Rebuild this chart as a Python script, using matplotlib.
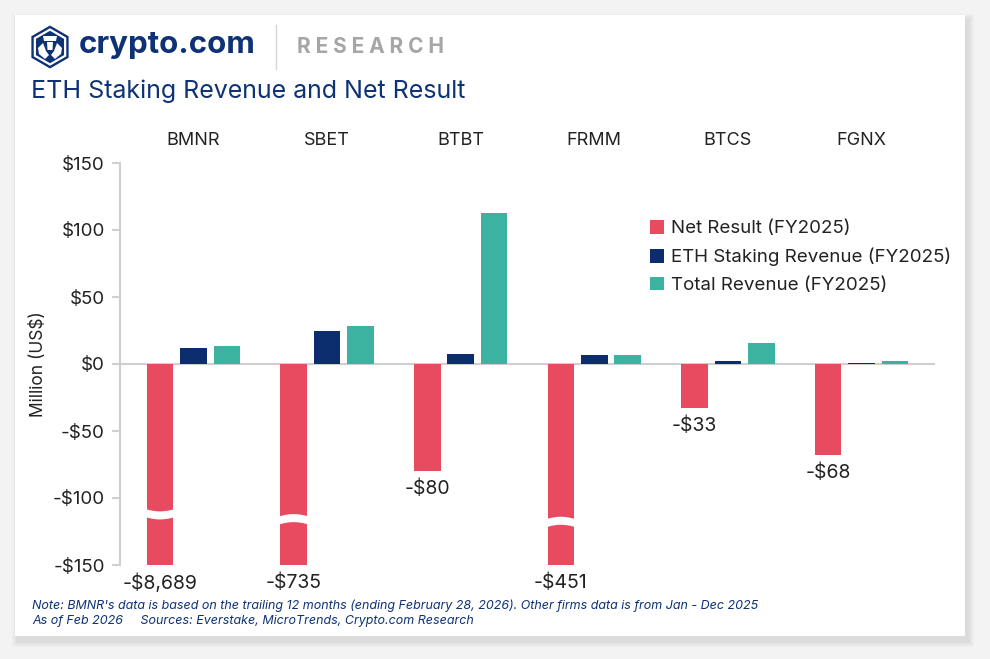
import numpy as np
import matplotlib.pyplot as plt
from matplotlib.patches import FancyBboxPatch, Polygon

plt.rcParams['font.family'] = ['Inter', 'DejaVu Sans']

# data (million US$)
firms = ['BMNR', 'SBET', 'BTBT', 'FRMM', 'BTCS', 'FGNX']
net_result = [-8689, -735, -80, -451, -33, -68]
eth_staking = [12, 25, 7.5, 6.5, 2, 1]
total_revenue = [13.5, 28, 113, 6.5, 16, 2]
net_labels = ['-$8,689', '-$735', '-$80', '-$451', '-$33', '-$68']
yticks = [150, 100, 50, 0, -50, -100, -150]
ytick_labels = ['$150', '$100', '$50', '$0', '-$50', '-$100', '-$150']
series_names = ['Net Result (FY2025)', 'ETH Staking Revenue (FY2025)', 'Total Revenue (FY2025)']

RED = '#E84A5F'
NAVY = '#0B2D6E'
TEAL = '#3BB3A0'
TITLE = '#0E3275'

W, H = 990, 659
fig = plt.figure(figsize=(W / 100, H / 100), dpi=100)
fig.patch.set_facecolor('#f3f3f3')

# overlay in pixel coordinates for the card and header
bg = fig.add_axes([0, 0, 1, 1])
bg.set_xlim(0, W)
bg.set_ylim(H, 0)
bg.axis('off')

for i, a in enumerate([0.025, 0.03, 0.04]):
    d = 6 - 2 * i
    bg.add_patch(FancyBboxPatch((15 - d + 3, 15 - d + 5), 950 + 2 * d, 621 + 2 * d,
                                boxstyle='square,pad=0', facecolor='black', alpha=a, edgecolor='none'))
bg.add_patch(FancyBboxPatch((15, 15), 950, 621, boxstyle='square,pad=0', facecolor='white', edgecolor='none'))

# logo
def hexagon(cx, cy, r):
    ang = np.deg2rad(np.arange(6) * 60 + 90)
    return np.column_stack([cx + r * np.cos(ang), cy - r * np.sin(ang)])

cx, cy = 50, 47
bg.add_patch(Polygon(hexagon(cx, cy, 21.5), facecolor=TITLE, edgecolor='none'))
bg.add_patch(Polygon(hexagon(cx, cy, 17.5), facecolor='none', edgecolor='white', lw=1.6))
bg.add_patch(Polygon([(cx - 7, cy - 11), (cx + 7, cy - 11), (cx + 6, cy - 6), (cx - 6, cy - 6)],
                     facecolor='white', edgecolor='none'))
bg.add_patch(Polygon([(cx - 3, cy - 5), (cx + 3, cy - 5), (cx + 2.5, cy + 3), (cx - 2.5, cy + 3)],
                     facecolor='white', edgecolor='none'))
bg.add_patch(Polygon([(cx - 12, cy + 1), (cx - 7, cy - 4), (cx - 4, cy + 4), (cx - 1, cy + 8),
                      (cx - 5, cy + 12), (cx - 11, cy + 7)], facecolor='white', edgecolor='none'))
bg.add_patch(Polygon([(cx + 12, cy + 1), (cx + 7, cy - 4), (cx + 4, cy + 4), (cx + 1, cy + 8),
                      (cx + 5, cy + 12), (cx + 11, cy + 7)], facecolor='white', edgecolor='none'))

bg.text(79, 45, 'crypto.com', color=TITLE, fontsize=22.5, fontweight='bold', va='center')
bg.plot([276, 276], [25, 69], color='#d5d5d5', lw=1)
bg.text(297, 47, 'R E S E A R C H', color='#a6a6a6', fontsize=15, fontweight='bold', va='center')
bg.text(31, 91, 'ETH Staking Revenue and Net Result', color=TITLE, fontsize=18, va='center')

bg.text(32, 606, "Note: BMNR's data is based on the trailing 12 months (ending February 28, 2026). "
        "Other firms data is from Jan - Dec 2025", fontsize=9, style='italic', color=TITLE, va='center')
bg.text(32, 621, 'As of Feb 2026     Sources: Everstake, MicroTrends, Crypto.com Research',
        fontsize=9, style='italic', color=TITLE, va='center')

# plot area
ax = fig.add_axes([120 / W, 1 - 565 / H, (935 - 120) / W, (565 - 163) / H])
ax.patch.set_alpha(0)

x = np.arange(len(firms))
bw = 0.2
step = 0.25
ax.bar(x - step, net_result, bw, color=RED, label=series_names[0])
ax.bar(x, eth_staking, bw, color=NAVY, label=series_names[1])
ax.bar(x + step, total_revenue, bw, color=TEAL, label=series_names[2])

ax.set_ylim(-150, 150)
ax.set_xlim(-0.55, len(firms) - 0.45)
ax.axhline(0, color='#cfcfcf', lw=1.5, zorder=0)

# axis break marks on clipped bars
t = np.linspace(-1, 1, 40)
break_at = {0: (-111, -1), 1: (-117, 1), 3: (-119, 1)}
for i, v in enumerate(net_result):
    if v < -150:
        yb, sgn = break_at[i]
        xs = x[i] - step + t * (bw / 2 + 0.02)
        wave = sgn * 2.0 * np.cos(np.pi * t / 2)
        pts = np.concatenate([np.column_stack([xs, yb + 3 + wave]),
                              np.column_stack([xs[::-1], (yb - 3 + wave)[::-1]])])
        ax.add_patch(Polygon(pts, closed=True, facecolor='white', edgecolor='none', zorder=4))

# value labels for net result
for i, (v, lab) in enumerate(zip(net_result, net_labels)):
    yl = max(v, -150) - 6
    ax.text(x[i] - step, yl, lab, ha='center', va='top', fontsize=14, color='#222222', clip_on=False)

# firm names above plot
for i, f in enumerate(firms):
    ax.text(x[i], 167, f, ha='center', va='center', fontsize=13, color='#222222', clip_on=False)

ax.set_yticks(yticks)
ax.set_yticklabels(ytick_labels, fontsize=13.5, color='#222222')
ax.set_xticks([])
for s in ['top', 'right', 'bottom']:
    ax.spines[s].set_visible(False)
ax.spines['left'].set_color('#cfcfcf')
ax.spines['left'].set_linewidth(1.5)
ax.tick_params(axis='y', length=6, width=1.5, color='#cfcfcf', pad=5)
ax.set_ylabel('Million (US$)', fontsize=12.5, color='#222222', labelpad=4)

ax.legend(loc='upper left', bbox_to_anchor=(0.63, 0.9), frameon=False, fontsize=13.5,
          handlelength=0.75, handleheight=0.75, handletextpad=0.35, labelspacing=0.55, labelcolor='#222222')

fig.savefig('out.png', dpi=100, facecolor=fig.get_facecolor())
